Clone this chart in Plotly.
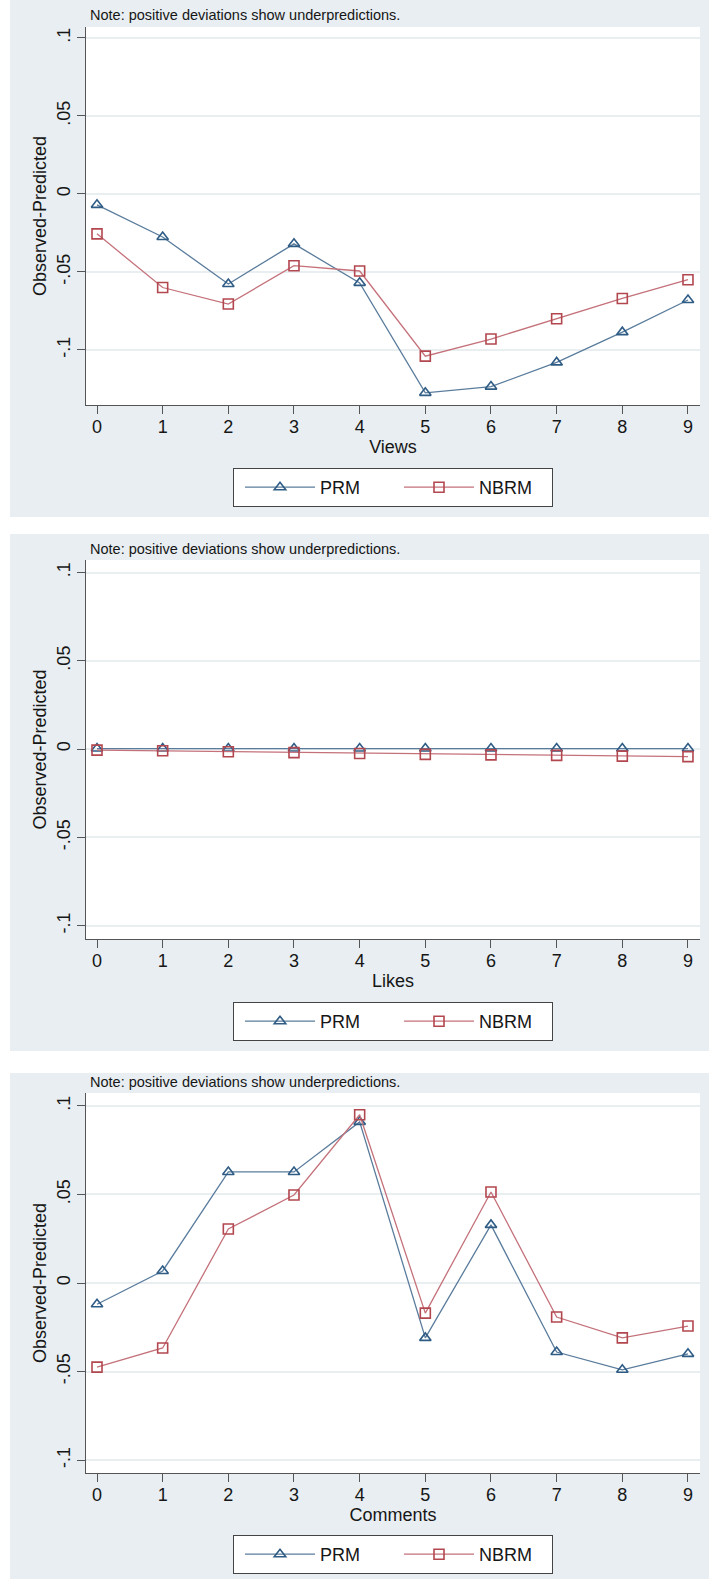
import plotly.graph_objects as go

W, H = 709, 1579

x_vals = [0, 1, 2, 3, 4, 5, 6, 7, 8, 9]
x_ticktext = ["0", "1", "2", "3", "4", "5", "6", "7", "8", "9"]
y_tickvals = [-0.1, -0.05, 0, 0.05, 0.1]
y_ticktext = ["-.1", "-.05", "0", ".05", ".1"]

views_prm = [-0.007, -0.0276, -0.0577, -0.032, -0.057, -0.1275, -0.1235, -0.108, -0.0886, -0.068]
views_nbrm = [-0.0256, -0.060, -0.0706, -0.046, -0.0494, -0.104, -0.093, -0.080, -0.067, -0.055]

likes_prm = [0.0003, 0.0003, 0.0003, 0.0003, 0.0003, 0.0003, 0.0003, 0.0003, 0.0003, 0.0003]
likes_nbrm = [-0.0006, -0.001, -0.0015, -0.002, -0.0025, -0.003, -0.0033, -0.0036, -0.004, -0.0043]

comments_prm = [-0.012, 0.0068, 0.0627, 0.0627, 0.091, -0.031, 0.0328, -0.039, -0.049, -0.040]
comments_nbrm = [-0.0475, -0.0367, 0.0305, 0.0497, 0.095, -0.017, 0.0514, -0.0192, -0.031, -0.0243]

panel_titles = ["Views", "Likes", "Comments"]
series_names = ["PRM", "NBRM"]
note_text = "Note: positive deviations show underpredictions."
y_title = "Observed-Predicted"

FONT = "Liberation Sans, Arial, Helvetica, sans-serif"
TXT = "#161616"
BG = "#E8EEF2"
GRID = "#E9EEF1"
AXC = "#555555"
PRM_LINE = "#5A7C9C"
PRM_MK = "#2F5C85"
NB_LINE = "#C4717A"
NB_MK = "#B3474F"

panels = [
    dict(top=27, bot=405, yr=[-0.1353, 0.107], bg=(0, 517), note=15, leg=468),
    dict(top=560, bot=939, yr=[-0.1076, 0.1071], bg=(534, 1051), note=549, leg=1002),
    dict(top=1093, bot=1473, yr=[-0.1073, 0.1073], bg=(1073, 1579), note=1082, leg=1535),
]
data = [(views_prm, views_nbrm), (likes_prm, likes_nbrm), (comments_prm, comments_nbrm)]

XL, XR = 86, 700
x_range = [-0.1675, 9.183]

def py(v):
    return 1 - v / H

fig = go.Figure()
shapes = []
annotations = []
layout = {}

for i, (p, (prm, nb)) in enumerate(zip(panels, data)):
    n = "" if i == 0 else str(i + 1)
    xa = "x" + n
    ya = "y" + n
    lg = "legend" + n
    fig.add_trace(go.Scatter(
        x=x_vals, y=prm, name=series_names[0], xaxis=xa, yaxis=ya, legend=lg,
        mode="lines+markers",
        line=dict(color=PRM_LINE, width=1.3),
        marker=dict(symbol="triangle-up-open", size=10, color=PRM_MK, line=dict(width=1.6, color=PRM_MK)),
    ))
    fig.add_trace(go.Scatter(
        x=x_vals, y=nb, name=series_names[1], xaxis=xa, yaxis=ya, legend=lg,
        mode="lines+markers",
        line=dict(color=NB_LINE, width=1.3),
        marker=dict(symbol="square-open", size=10, color=NB_MK, line=dict(width=1.6, color=NB_MK)),
    ))
    layout["xaxis" + n] = dict(
        domain=[XL / W, XR / W], range=x_range, anchor=ya,
        tickmode="array", tickvals=x_vals, ticktext=x_ticktext,
        ticks="outside", ticklen=8, tickwidth=1, tickcolor=AXC,
        showline=True, linecolor=AXC, linewidth=1.2, showgrid=False, zeroline=False,
        tickfont=dict(size=18, color=TXT, family=FONT), ticklabelstandoff=-3,
        title=dict(text=panel_titles[i], font=dict(size=18, color=TXT, family=FONT), standoff=4),
    )
    layout["yaxis" + n] = dict(
        domain=[py(p["bot"]), py(p["top"])], range=p["yr"], anchor=xa,
        tickmode="array", tickvals=y_tickvals, ticktext=y_ticktext, tickangle=-90,
        ticks="outside", ticklen=8, tickwidth=1, tickcolor=AXC,
        showline=True, linecolor=AXC, linewidth=1.2, showgrid=True, gridcolor=GRID, gridwidth=1.5,
        zeroline=False,
        tickfont=dict(size=18, color=TXT, family=FONT),
        title=dict(text=y_title, font=dict(size=18, color=TXT, family=FONT), standoff=2),
    )
    layout[lg] = dict(
        orientation="h", x=393 / W, xanchor="center", y=py(p["leg"]), yanchor="top",
        bordercolor="#444", borderwidth=1, bgcolor="white",
        font=dict(size=18, color=TXT, family=FONT),
        indentation=6, itemwidth=70,
        entrywidth=68, entrywidthmode="pixels",
    )
    shapes.append(dict(type="rect", xref="paper", yref="paper", layer="below",
                       x0=10 / W, x1=1, y0=py(p["bg"][1]), y1=py(p["bg"][0]),
                       fillcolor=BG, line=dict(width=0)))
    shapes.append(dict(type="rect", xref="paper", yref="paper", layer="below",
                       x0=XL / W, x1=XR / W, y0=py(p["bot"]), y1=py(p["top"]),
                       fillcolor="white", line=dict(width=0)))
    annotations.append(dict(text=note_text, xref="paper", yref="paper",
                            x=88 / W, y=py(p["note"]), xanchor="left", yanchor="middle",
                            showarrow=False, font=dict(size=14.5, color=TXT, family=FONT)))

fig.update_layout(
    width=W, height=H, margin=dict(l=0, r=0, t=0, b=0),
    paper_bgcolor="white", plot_bgcolor="rgba(0,0,0,0)",
    font=dict(family=FONT, color=TXT),
    shapes=shapes, annotations=annotations, **layout,
)

fig.write_html(
    "out.html",
    config={"displayModeBar": False},
    post_script="document.body.style.margin='0';document.body.style.overflow='hidden';",
)
